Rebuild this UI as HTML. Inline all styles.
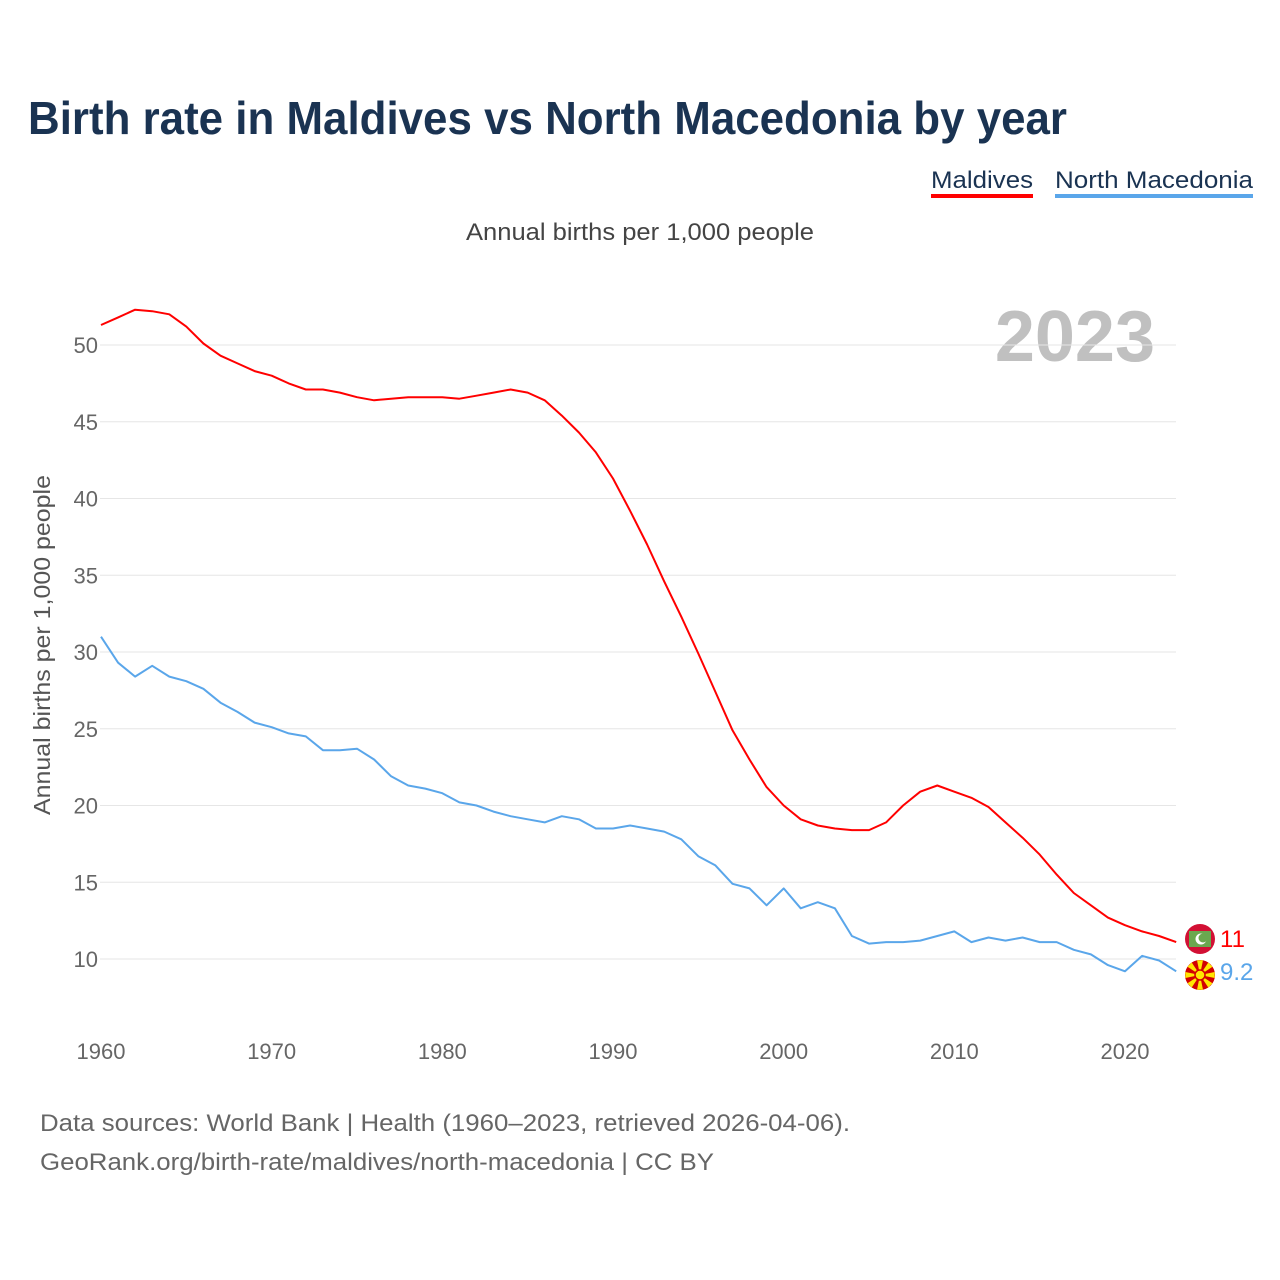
<!DOCTYPE html>
<html><head><meta charset="utf-8"><style>
html,body{margin:0;padding:0;background:#fff;}
svg{display:block;font-family:"Liberation Sans",sans-serif;}
</style></head><body>
<svg id="chart" width="1280" height="1280" viewBox="0 0 1280 1280" xmlns="http://www.w3.org/2000/svg">
<text x="28" y="134" font-size="46" font-weight="bold" fill="#1a3352" textLength="1039" lengthAdjust="spacingAndGlyphs">Birth rate in Maldives vs North Macedonia by year</text>
<g>
<text x="931" y="188" font-size="24" fill="#1a3352" textLength="102" lengthAdjust="spacingAndGlyphs">Maldives</text>
<rect x="931" y="194" width="102" height="4" fill="#ff0000"/></g>
<g>
<text x="1055" y="188" font-size="24" fill="#1a3352" textLength="198" lengthAdjust="spacingAndGlyphs">North Macedonia</text>
<rect x="1055" y="194" width="198" height="4" fill="#5aa6ea"/></g>
<text x="640" y="240" font-size="24" fill="#444" text-anchor="middle" textLength="348" lengthAdjust="spacingAndGlyphs">Annual births per 1,000 people</text>
<text x="1155" y="361" font-size="72" font-weight="bold" fill="#c0c0c0" text-anchor="end">2023</text>
<text transform="translate(50,645) rotate(-90)" font-size="23" fill="#555" text-anchor="middle" textLength="340" lengthAdjust="spacingAndGlyphs">Annual births per 1,000 people</text>
<g id="grid"></g><g id="yticks"></g><g id="xticks"></g><g id="series"></g>
<g>
<circle cx="1200" cy="939" r="15" fill="#d21034"/>
<rect x="1189" y="931" width="22" height="16" fill="#6aa84f"/>
<circle cx="1201" cy="939" r="5.5" fill="#fff"/><circle cx="1203" cy="938" r="4.5" fill="#6aa84f"/></g>
<g id="mkflag">
<circle cx="1200" cy="975" r="15" fill="#d20000"/></g>
<text x="1220" y="947" font-size="24" fill="#ff0000">11</text>
<text x="1220" y="980" font-size="24" fill="#5aa6ea">9.2</text>
<text x="40" y="1131" font-size="24" fill="#666" textLength="810" lengthAdjust="spacingAndGlyphs">Data sources: World Bank | Health (1960–2023, retrieved 2026-04-06).</text>
<text x="40" y="1170" font-size="24" fill="#666" textLength="674" lengthAdjust="spacingAndGlyphs">GeoRank.org/birth-rate/maldives/north-macedonia | CC BY</text>
</svg>
<script>
const years = Array.from({length:64},(_,i)=>1960+i);
const maldives = [51.3,51.8,52.3,52.2,52.0,51.2,50.1,49.3,48.8,48.3,48.0,47.5,47.1,47.1,46.9,46.6,46.4,46.5,46.6,46.6,46.6,46.5,46.7,46.9,47.1,46.9,46.4,45.4,44.3,43.0,41.3,39.2,37.0,34.6,32.3,29.9,27.4,24.9,23.0,21.2,20.0,19.1,18.7,18.5,18.4,18.4,18.9,20.0,20.9,21.3,20.9,20.5,19.9,18.9,17.9,16.8,15.5,14.3,13.5,12.7,12.2,11.8,11.5,11.1];
const macedonia = [31.0,29.3,28.4,29.1,28.4,28.1,27.6,26.7,26.1,25.4,25.1,24.7,24.5,23.6,23.6,23.7,23.0,21.9,21.3,21.1,20.8,20.2,20.0,19.6,19.3,19.1,18.9,19.3,19.1,18.5,18.5,18.7,18.5,18.3,17.8,16.7,16.1,14.9,14.6,13.5,14.6,13.3,13.7,13.3,11.5,11.0,11.1,11.1,11.2,11.5,11.8,11.1,11.4,11.2,11.4,11.1,11.1,10.6,10.3,9.6,9.2,10.2,9.9,9.2];
const yTicks = [10,15,20,25,30,35,40,45,50];
const xTicks = [1960,1970,1980,1990,2000,2010,2020];
const NS='http://www.w3.org/2000/svg';
const xs = y => 101 + (y-1960)*(1024/60);
const ys = v => 959 - (v-10)*(614/40);
function mk(tag,attrs,parent){const e=document.createElementNS(NS,tag);for(const k in attrs)e.setAttribute(k,attrs[k]);parent.appendChild(e);return e;}
const grid=document.getElementById('grid'),yt=document.getElementById('yticks'),xt=document.getElementById('xticks'),ser=document.getElementById('series');
yTicks.forEach(v=>{
  const l=mk('line',{x1:100,x2:1176,y1:ys(v),y2:ys(v),stroke:'#e6e6e6','stroke-width':1},grid);
  
  
  const t=mk('text',{x:98,y:ys(v)+8,'font-size':22,fill:'#666','text-anchor':'end'},yt);
  t.textContent=v;
  
  
});
xTicks.forEach(y=>{
  const t=mk('text',{x:xs(y),y:1059,'font-size':22,fill:'#666','text-anchor':'middle'},xt);
  t.textContent=y;
  
  
});
function line(data,color,name){
  const d=data.map((v,i)=>(i?'L':'M')+xs(years[i]).toFixed(1)+','+ys(v).toFixed(1)).join('');
  const p=mk('path',{d:d,fill:'none',stroke:color,'stroke-width':2,'stroke-linejoin':'round'},ser);
  
  
}
line(macedonia,'#5aa6ea','line-north-macedonia');
line(maldives,'#ff0000','line-maldives');
const mk2=document.getElementById('mkflag');
for(let i=0;i<8;i++){const a=i*Math.PI/4;
  const p=mk('path',{d:`M1200,975 L${1200+15*Math.cos(a-0.2)},${975+15*Math.sin(a-0.2)} L${1200+15*Math.cos(a+0.2)},${975+15*Math.sin(a+0.2)}Z`,fill:'#ffe600'},mk2);}
mk('circle',{cx:1200,cy:975,r:5,fill:'#ffe600',stroke:'#d20000','stroke-width':1.5},mk2);
</script>
</body></html>
